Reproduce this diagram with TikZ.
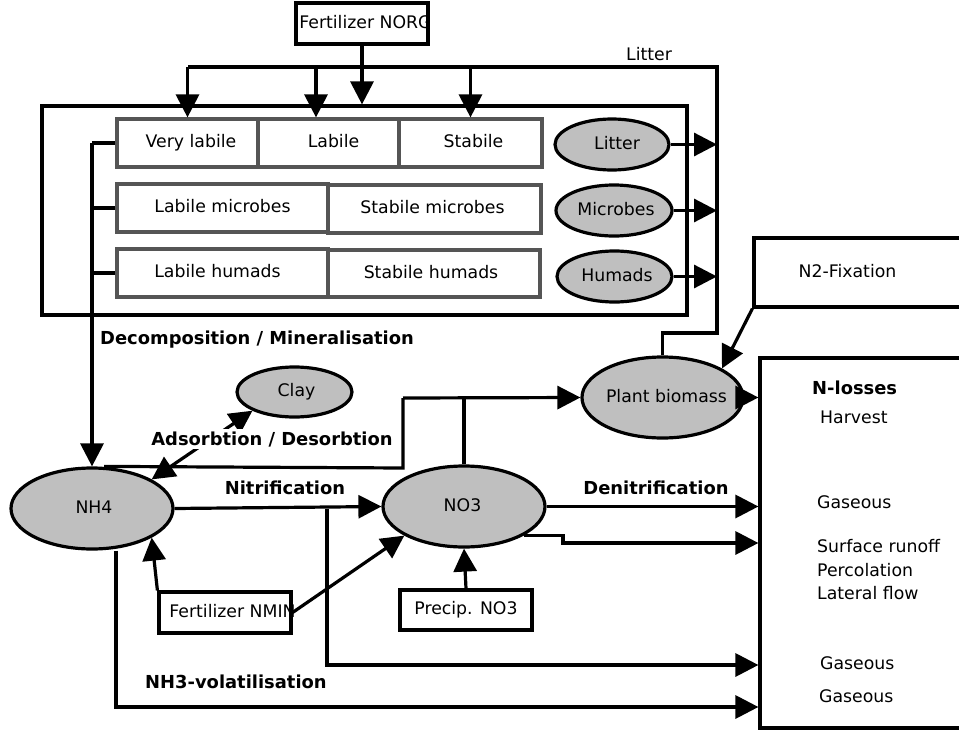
\documentclass[tikz,border=0pt]{standalone}
\usepackage{fontspec}
\setmainfont{DejaVu Sans}
\usetikzlibrary{arrows.meta,shapes.geometric}
\definecolor{ellfill}{HTML}{BFBFBF}
\definecolor{boxgray}{HTML}{555555}
\newcommand\zt[2][0pt]{\makebox[0pt][c]{\hspace*{#1}#2\hspace*{-#1}}}
\begin{document}
\begin{tikzpicture}[x=1pt,y=-1pt, font=\fontsize{17.3}{20}\selectfont,
 ln/.style={line width=3.2pt},
 arr/.style={ln,-{Triangle[length=23pt,width=23pt]}},
 arrb/.style={ln,{Triangle[length=23pt,width=23pt]}-{Triangle[length=23pt,width=23pt]}},
 pool/.style={ellipse,draw,line width=3.2pt,fill=ellfill,inner sep=0pt,text height=12.5pt,text depth=3.5pt},
 blk/.style={rectangle,draw,line width=3.2pt,inner sep=0pt,text height=12.5pt,text depth=3.5pt},
 sub/.style={rectangle,draw=boxgray,line width=3.2pt,inner sep=0pt,text height=12.5pt,text depth=3.5pt,minimum height=48pt},
 lab/.style={anchor=base,inner sep=0pt},
 blab/.style={anchor=base,inner sep=0pt,font=\fontsize{17.9}{20}\selectfont\bfseries},
]
\useasboundingbox (0,0) rectangle (959,731);

% boxes
\node[blk,minimum width=132pt,minimum height=41pt] (NORG) at (362,23.5) {\zt[3.5pt]{Fertilizer NORG}};
\node[blk,minimum width=645pt,minimum height=209pt] (outer) at (364.5,210.5) {};
\node[sub,minimum width=141pt] (VL) at (187.5,143) {\zt[3.5pt]{Very labile}};
\node[sub,minimum width=141pt] (LB) at (328.5,143) {\zt[5pt]{Labile}};
\node[sub,minimum width=143pt] (ST) at (470.5,143) {\zt[3pt]{Stabile}};
\node[sub,minimum width=211pt] (LM) at (222.5,208) {Labile microbes};
\node[sub,minimum width=213pt] (SM) at (434.5,209) {\zt[-2pt]{Stabile microbes}};
\node[sub,minimum width=211pt] (LH) at (222.5,273) {\zt[-5pt]{Labile humads}};
\node[sub,minimum width=212pt,minimum height=47pt] (SH) at (434,273.5) {\zt[-3pt]{Stabile humads}};

% pools
\node[pool,minimum width=114pt,minimum height=51pt] (LitE) at (612,144.5) {\zt[5pt]{Litter}};
\node[pool,minimum width=116pt,minimum height=51pt] (MicE) at (614,210.5) {\zt[2pt]{Microbes}};
\node[pool,minimum width=115pt,minimum height=51pt] (HumE) at (614.5,276.5) {\zt[2.5pt]{Humads}};
\node[pool,minimum width=161pt,minimum height=81pt] (PB) at (662.5,397.5) {\zt[4pt]{Plant biomass}};
\node[pool,minimum width=162pt,minimum height=81pt] (NH4) at (92,508.5) {\zt[2pt]{NH4}};
\node[pool,minimum width=162pt,minimum height=81pt] (NO3) at (464,506.5) {\zt[-1.5pt]{NO3}};
\node[pool,minimum width=115pt,minimum height=50pt] (Clay) at (294.5,392) {\zt[2pt]{Clay}};

\node[blk,minimum width=132pt,minimum height=41pt] (NMIN) at (225,612.5) {\zt[7.5pt]{Fertilizer NMIN}};
\node[blk,minimum width=132pt,minimum height=40pt] (Precip) at (466,610) {Precip. NO3};
\node[blk,minimum width=221pt,minimum height=69pt] (N2) at (864.5,272.5) {\zt[-17pt]{N2-Fixation}};
\node[blk,minimum width=215pt,minimum height=370pt] (NL) at (867.5,543) {};

% coordinates
\coordinate (L1) at (717,333);
\coordinate (L2) at (717,67);
\coordinate (lbtop) at ([xshift=-12.5pt]LB.north);
\coordinate (J1) at (403,398);
\coordinate (J2) at (403,468);
\coordinate (V1) at (116,707);
\coordinate (V2) at (327,665);
\coordinate (K) at (563,543);

% Fertilizer NORG and litter loop
\draw[arr] (NORG.south) -- (NORG.south |- outer.north);
\draw[ln] (PB.north) |- (L1) -- (L2) -- (L2 -| VL.north);
\draw[arr] (L2 -| VL.north) -- (VL.north);
\draw[arr] (L2 -| lbtop) -- (lbtop);
\draw[arr] (L2 -| ST.north) -- (ST.north);
\draw[arr] (LitE.east) -- (LitE.east -| L1);
\draw[arr] (MicE.east) -- (MicE.east -| L1);
\draw[arr] (HumE.east) -- (HumE.east -| L1);

% decomposition bracket
\draw[ln] (VL.west) -- (VL.west -| NH4.north);
\draw[ln] (LM.west) -- (LM.west -| NH4.north);
\draw[ln] (LH.west) -- (LH.west -| NH4.north);
\draw[arr] (VL.west -| NH4.north) -- (NH4.north);

% plant uptake
\draw[ln] ([xshift=12pt]NH4.north) -- (J2) -- (J1);
\draw[ln] (NO3.north) -- (NO3.north |- J1);
\draw[arr] (J1) -- (PB.west);
\draw[arr] (N2.south west) -- (PB.26);
\draw[arr] ([xshift=-6pt]PB.east) -- (PB.east -| NL.west);

% soil processes
\draw[arrb] (NH4.26) -- (Clay.204);
\draw[arr] (NH4.east) -- (NO3.west);
\draw[arr] (V1 |- NH4.south) -- (V1) -- (V1 -| NL.west);
\draw[arr] (V2 |- NH4.east) -- (V2) -- (V2 -| NL.west);
\draw[arr] (NO3.east) -- (NO3.east -| NL.west);
\draw[arr] (NO3.-26) -| (K) -- (K -| NL.west);
\draw[arr] (NMIN.north west) -- (NH4.-26);
\draw[arr] (NMIN.east) -- (NO3.206);
\draw[arr] (Precip.north) -- (NO3.south);

% labels
\node[lab] (tLit) at (649,60) {Litter};
\node[blab,anchor=base west] (tDec) at (100,344) {Decomposition / Mineralisation};
\node[blab,fill=white,inner sep=2pt] (tAds) at (272,445) {Adsorbtion / Desorbtion};
\node[blab] (tNit) at (285,494) {Nitrification};
\node[blab] (tDen) at (656,494) {Denitrification};
\node[blab,anchor=base west] (tVol) at (145,688) {NH3-volatilisation};
\node[blab,anchor=base west] (tNL) at (812,394) {N-losses};
\node[lab,anchor=base west] (tHar) at (820,423) {Harvest};
\node[lab,anchor=base west] (tG1) at (817,508) {Gaseous};
\node[lab,anchor=base west] (tSR) at (817,552) {Surface runoff};
\node[lab,anchor=base west] (tPer) at (817,576) {Percolation};
\node[lab,anchor=base west] (tLat) at (817,599) {Lateral flow};
\node[lab,anchor=base west] (tG2) at (820,669) {Gaseous};
\node[lab,anchor=base west] (tG3) at (819,702) {Gaseous};
\end{tikzpicture}
\end{document}
